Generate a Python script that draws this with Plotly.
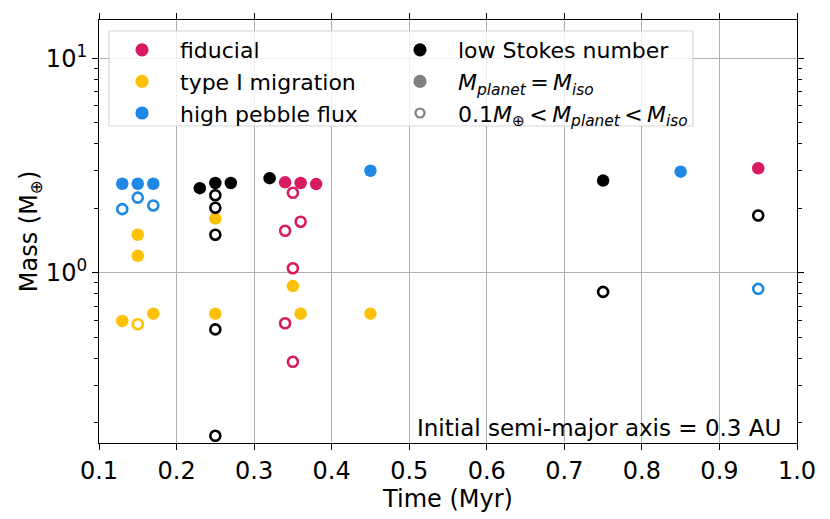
import plotly.graph_objects as go

# colours of the four runs
c_fid = "#D81B60"
c_typ = "#FFC107"
c_pf = "#1E88E5"
c_st = "#000000"

# time (Myr) and mass (M_earth); "iso" = reached isolation mass, "sub" = 0.1 < M < M_iso
fid_t_iso = [0.34, 0.36, 0.38, 0.95]
fid_m_iso = [2.64, 2.62, 2.59, 3.07]
fid_t_sub = [0.35, 0.34, 0.36, 0.35, 0.34, 0.35]
fid_m_sub = [2.36, 1.57, 1.73, 1.05, 0.582, 0.385]

typ_t_iso = [0.15, 0.15, 0.13, 0.17, 0.25, 0.25, 0.35, 0.36, 0.45]
typ_m_iso = [1.505, 1.20, 0.597, 0.645, 1.79, 0.645, 0.867, 0.645, 0.645]
typ_t_sub = [0.15]
typ_m_sub = [0.576]

pf_t_iso = [0.13, 0.15, 0.17, 0.45, 0.85]
pf_m_iso = [2.60, 2.60, 2.60, 2.99, 2.96]
pf_t_sub = [0.13, 0.15, 0.17, 0.95]
pf_m_sub = [1.98, 2.24, 2.06, 0.842]

st_t_iso = [0.23, 0.25, 0.27, 0.32, 0.75]
st_m_iso = [2.48, 2.62, 2.62, 2.76, 2.69]
st_t_sub = [0.25, 0.25, 0.25, 0.25, 0.25, 0.75, 0.95]
st_m_sub = [2.30, 2.01, 1.505, 0.545, 0.174, 0.815, 1.85]

x_ticks = [0.1, 0.2, 0.3, 0.4, 0.5, 0.6, 0.7, 0.8, 0.9, 1.0]
x_labels = ["0.1", "0.2", "0.3", "0.4", "0.5", "0.6", "0.7", "0.8", "0.9", "1.0"]
y_ticks = [1, 10]
y_labels = ["10<sup>0</sup>", "10<sup>1</sup>"]
y_minor = [0.2, 0.3, 0.4, 0.5, 0.6, 0.7, 0.8, 0.9, 2, 3, 4, 5, 6, 7, 8, 9]

FONT = "DejaVu Sans"
# the page body adds an 8px offset, so the figure is drawn 8px smaller
W, H = 822, 511
ML, MR, MT, MB = 91, 33, 12, 76
PW, PH = W - ML - MR, H - MT - MB


def px_x(px):
    # reference pixel -> paper x
    return (px - 99) / PW


def px_y(py):
    # reference pixel -> paper y
    return (443 - py) / PH


fig = go.Figure()

series = [
    (fid_t_iso, fid_m_iso, fid_t_sub, fid_m_sub, c_fid),
    (typ_t_iso, typ_m_iso, typ_t_sub, typ_m_sub, c_typ),
    (pf_t_iso, pf_m_iso, pf_t_sub, pf_m_sub, c_pf),
    (st_t_iso, st_m_iso, st_t_sub, st_m_sub, c_st),
]
for t_iso, m_iso, t_sub, m_sub, col in series:
    fig.add_trace(go.Scatter(
        x=t_sub, y=m_sub, mode="markers", showlegend=False,
        marker=dict(symbol="circle-open", size=10, color=col, line=dict(width=2.6, color=col)),
    ))
    fig.add_trace(go.Scatter(
        x=t_iso, y=m_iso, mode="markers", showlegend=False,
        marker=dict(symbol="circle", size=12.5, color=col, line=dict(width=0)),
    ))

# legend entries (two columns, one legend each); thin spaces around the relations
legend_items = [
    ("fiducial", c_fid, "circle", "legend"),
    ("type I migration", c_typ, "circle", "legend"),
    ("high pebble flux", c_pf, "circle", "legend"),
    ("low Stokes number", c_st, "circle", "legend2"),
    ("<i>M<sub>planet</sub></i>\u2009=\u2009<i>M<sub>iso</sub></i>", "#808080", "circle", "legend2"),
    ("0.1<i>M</i><sub>⊕</sub>\u2009&lt;\u2009<i>M<sub>planet</sub></i>\u2009&lt;\u2009<i>M<sub>iso</sub></i>",
     "#808080", "circle-open", "legend2"),
]
for i, (name, col, sym, leg) in enumerate(legend_items):
    fig.add_trace(go.Scatter(
        x=[None], y=[None], mode="markers", name=name, legend=leg,
        legendgroup="g%d" % i,
        marker=dict(symbol=sym, size=9 if sym == "circle-open" else 11, color=col,
                    line=dict(width=2.2, color=col)),
    ))

# legend frame
fig.add_shape(type="rect", xref="paper", yref="paper",
              x0=px_x(109), x1=px_x(693), y0=px_y(126), y1=px_y(31),
              line=dict(color="#d6d6d6", width=1.2),
              fillcolor="rgba(255,255,255,0.8)", layer="above")

fig.add_annotation(
    x=px_x(783), y=px_y(443), xref="paper", yref="paper", xanchor="right", yanchor="bottom",
    text="Initial semi-major axis = 0.3 AU", showarrow=False,
    font=dict(family=FONT, size=23, color="black"),
)

leg_common = dict(
    bgcolor="rgba(0,0,0,0)", borderwidth=0, font=dict(family=FONT, size=22, color="black"),
    xanchor="left", yanchor="top", tracegroupgap=0, itemwidth=66,
)
fig.update_layout(
    width=W, height=H,
    margin=dict(l=ML, r=MR, t=MT, b=MB),
    paper_bgcolor="white", plot_bgcolor="white",
    font=dict(family=FONT, size=20, color="black"),
    legend=dict(x=px_x(104), y=px_y(29), **leg_common),
    legend2=dict(x=px_x(382), y=px_y(29), **leg_common),
    xaxis=dict(
        range=[0.1, 1.0], tickvals=x_ticks, ticktext=x_labels,
        tickfont=dict(family=FONT, size=24),
        showgrid=True, gridcolor="#b0b0b0", gridwidth=1,
        showline=True, linecolor="black", linewidth=1.2, mirror="ticks",
        ticks="outside", ticklen=6, tickcolor="black", tickwidth=1.2,
        title=dict(text="Time (Myr)", standoff=0, font=dict(family=FONT, size=24)),
        zeroline=False, automargin=False,
    ),
    yaxis=dict(
        type="log", range=[-0.793, 1.178], tickvals=y_ticks, ticktext=y_labels,
        tickfont=dict(family=FONT, size=24),
        showgrid=True, gridcolor="#b0b0b0", gridwidth=1,
        showline=True, linecolor="black", linewidth=1.2, mirror="ticks",
        ticks="outside", ticklen=6, tickcolor="black", tickwidth=1.2,
        minor=dict(tickvals=y_minor, ticks="outside", ticklen=3.5, tickcolor="black",
                   tickwidth=1, showgrid=False),
        title=dict(text="Mass (M<sub>⊕</sub>)", standoff=0, font=dict(family=FONT, size=24)),
        zeroline=False, automargin=False,
    ),
)

fig.write_html("out.html")
